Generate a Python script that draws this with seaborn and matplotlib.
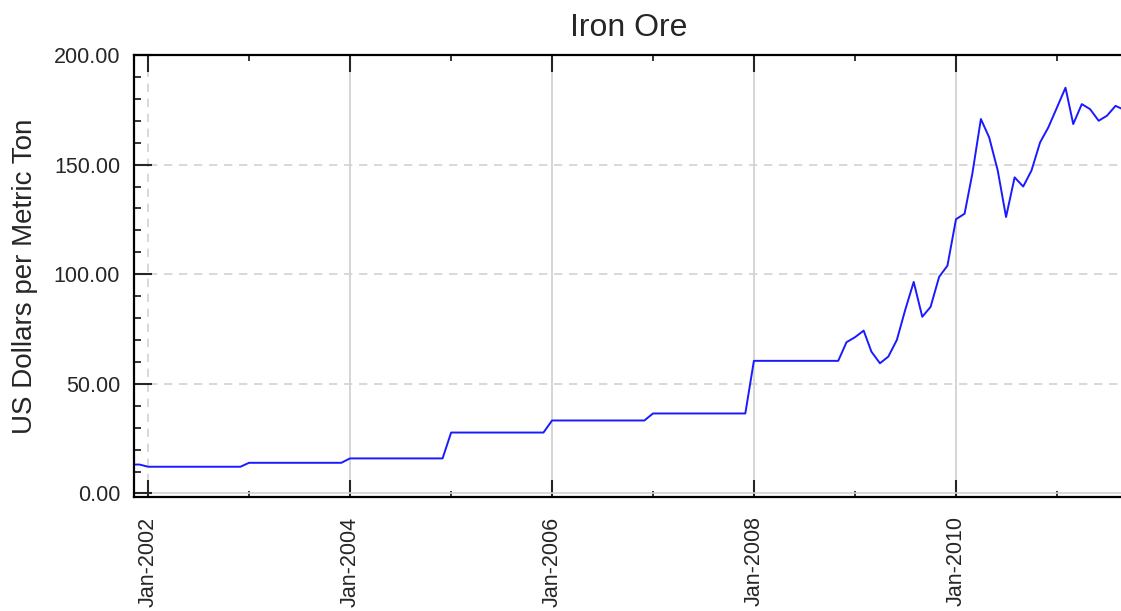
import pandas as pd
import seaborn as sns
import matplotlib.pyplot as plt
import matplotlib.dates as mdates
from matplotlib.ticker import MultipleLocator, FormatStrFormatter

# Precios mensuales del mineral de hierro (US$ por tonelada métrica)
p2001 = [13.2, 13.2]  # nov, dic
p2002 = [12.2, 12.2, 12.2, 12.2, 12.2, 12.2, 12.2, 12.2, 12.2, 12.2, 12.2, 12.2]
p2003 = [14.0, 14.0, 14.0, 14.0, 14.0, 14.0, 14.0, 14.0, 14.0, 14.0, 14.0, 14.0]
p2004 = [16.0, 16.0, 16.0, 16.0, 16.0, 16.0, 16.0, 16.0, 16.0, 16.0, 16.0, 16.0]
p2005 = [27.8, 27.8, 27.8, 27.8, 27.8, 27.8, 27.8, 27.8, 27.8, 27.8, 27.8, 27.8]
p2006 = [33.3, 33.3, 33.3, 33.3, 33.3, 33.3, 33.3, 33.3, 33.3, 33.3, 33.3, 33.3]
p2007 = [36.5, 36.5, 36.5, 36.5, 36.5, 36.5, 36.5, 36.5, 36.5, 36.5, 36.5, 36.5]
p2008 = [60.5, 60.5, 60.5, 60.5, 60.5, 60.5, 60.5, 60.5, 60.5, 60.5, 60.5, 69.0]
p2009 = [71.3, 74.3, 64.7, 59.4, 62.4, 70.0, 83.6, 96.5, 80.6, 85.1, 98.8, 103.9]
p2010 = [125.1, 127.6, 145.8, 170.8, 162.4, 147.3, 126.1, 144.2, 140.0, 147.3, 160.1, 167.0]
p2011 = [176.0, 185.1, 168.5, 177.6, 175.3, 170.0, 172.3, 176.8, 175.0]  # ene-sep

prices = p2001 + p2002 + p2003 + p2004 + p2005 + p2006 + p2007 + p2008 + p2009 + p2010 + p2011
months = pd.date_range("2001-11-01", periods=len(prices), freq="MS")
df = pd.DataFrame({"Month": months, "Price": prices})

sns.set_style("ticks")
plt.rcParams["font.family"] = ["Liberation Sans", "DejaVu Sans"]

fig = plt.figure(figsize=(11.21, 6.11), dpi=100)
# el borde derecho queda justo fuera de la imagen, como en el original
ax = fig.add_axes([134 / 1121, 1 - 497 / 611, (1123 - 134) / 1121, (497 - 55) / 611])

sns.lineplot(data=df, x="Month", y="Price", ax=ax, color="#1a1aff", linewidth=1.4)

ax.set_xlim(pd.Timestamp("2001-11-11"), pd.Timestamp("2011-08-28"))
ax.set_ylim(-1.6, 200)

# Ejes y marcas
ax.xaxis.set_major_locator(mdates.YearLocator(2))
ax.xaxis.set_minor_locator(mdates.YearLocator(1))
ax.xaxis.set_major_formatter(mdates.DateFormatter("%b-%Y"))
ax.yaxis.set_major_locator(MultipleLocator(50))
ax.yaxis.set_minor_locator(MultipleLocator(10))
ax.yaxis.set_major_formatter(FormatStrFormatter("%.2f"))

ax.tick_params(axis="x", which="major", direction="in", length=12, width=1.5,
               top=True, labelsize=15.5, labelrotation=90, pad=14)
ax.tick_params(axis="x", which="minor", direction="in", length=4, width=1.3, top=True)
ax.tick_params(axis="y", which="major", direction="in", length=13, width=1.5,
               right=False, labelsize=15.5, pad=10)
ax.tick_params(axis="y", which="minor", direction="in", length=5, width=1.3, right=False)

for s in ax.spines.values():
    s.set_linewidth(1.6)
    s.set_color("black")

ax.grid(axis="x", which="major", color="#d2d2d2", linestyle="-", linewidth=1.3)
ax.grid(axis="y", which="major", color="#d2d2d2", linestyle=(0, (5, 4)), linewidth=1.2)

# la rejilla de Jan-2002 es discontinua y la de 0.00 es continua en el original
fig.canvas.draw()
for t, loc in zip(ax.xaxis.get_major_ticks(), ax.xaxis.get_majorticklocs()):
    if abs(loc - mdates.date2num(pd.Timestamp("2002-01-01"))) < 1:
        t.gridline.set_linestyle((0, (5, 4)))
        t.gridline.set_linewidth(1.2)
for t, loc in zip(ax.yaxis.get_major_ticks(), ax.yaxis.get_majorticklocs()):
    if loc == 0:
        t.gridline.set_linestyle("-")

ax.set_xlabel("")
ax.set_ylabel("US Dollars per Metric Ton", fontsize=20, labelpad=11)
ax.set_title("Iron Ore", fontsize=23, pad=14)

fig.savefig("out.png", dpi=100)
plt.close()
